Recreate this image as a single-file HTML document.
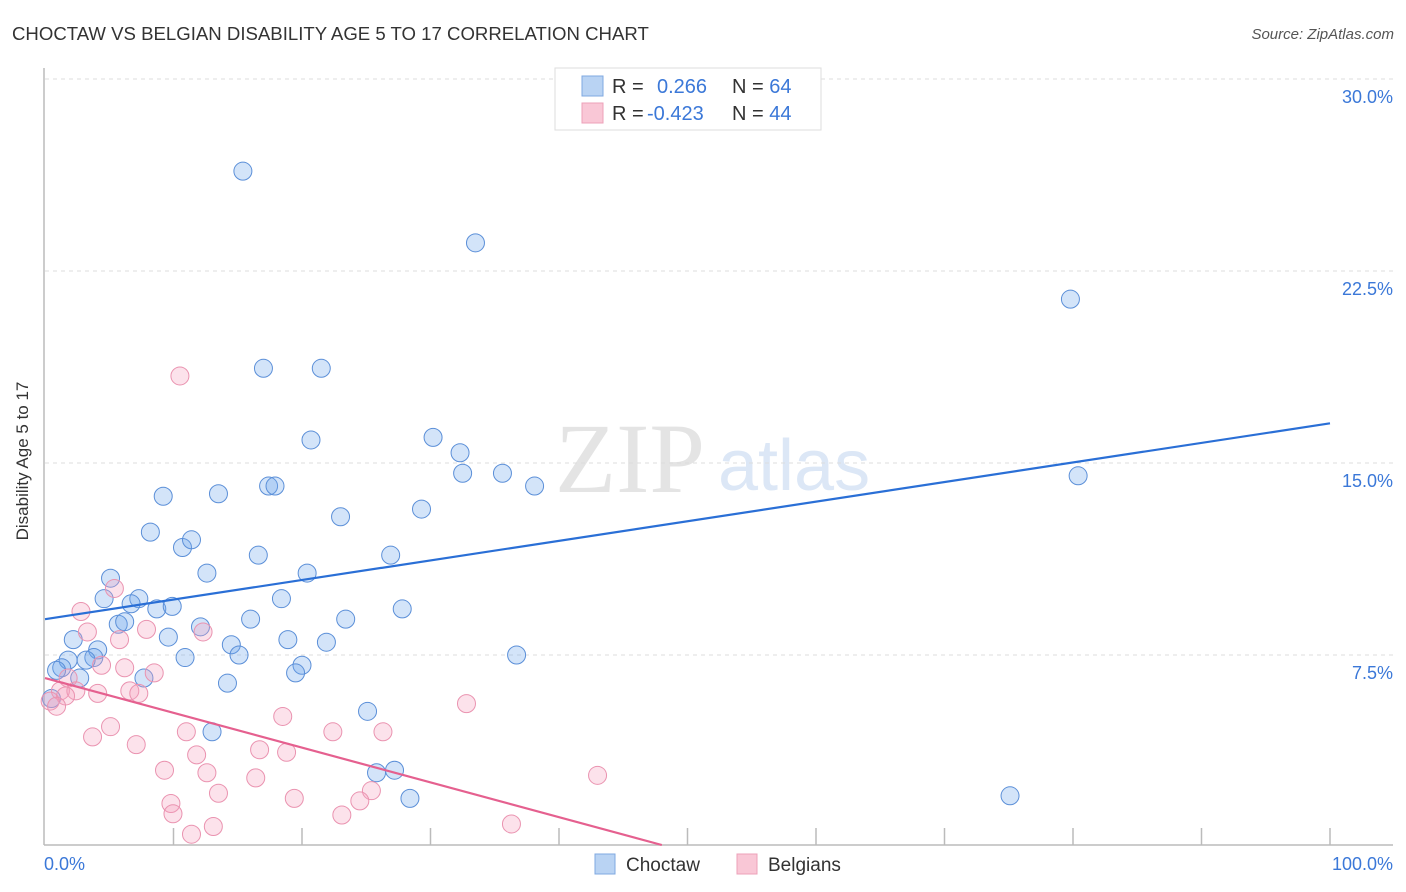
<!DOCTYPE html>
<html><head><meta charset="utf-8"><style>
body{margin:0;background:#fff;font-family:"Liberation Sans",sans-serif}
svg{display:block}
</style></head><body>
<svg width="1406" height="892" id="chart">
<text x="12" y="40" font-size="18.6" fill="#333">CHOCTAW VS BELGIAN DISABILITY AGE 5 TO 17 CORRELATION CHART</text>
<text x="1394" y="39" font-size="15" font-style="italic" fill="#555" text-anchor="end">Source: ZipAtlas.com</text>
<text x="555" y="492" font-size="100" font-family="Liberation Serif,serif" fill="#e4e4e4">ZIP</text>
<text x="718" y="490" font-size="72" fill="#dce7f6">atlas</text>
<g id="grid"></g>
<line x1="44" y1="68" x2="44" y2="845" stroke="#bbb" stroke-width="1.5"/>
<line x1="44" y1="845" x2="1393" y2="845" stroke="#bbb" stroke-width="1.5"/>
<g id="xticks"></g>
<text x="22" y="455" font-size="17" fill="#333" text-anchor="middle" transform="rotate(-90 28 455)">Disability Age 5 to 17</text>
<text x="44" y="870" font-size="18" fill="#3b78d8">0.0%</text>
<text x="1393" y="870" font-size="18" fill="#3b78d8" text-anchor="end">100.0%</text>
<g id="pts"></g>
<g id="lines"></g>
<g>
<rect x="555" y="68" width="266" height="62" fill="#fff" stroke="#ddd"/>
<rect x="582" y="76" width="21" height="20" fill="#b9d3f3" stroke="#7fa8e0"/>
<rect x="582" y="103" width="21" height="20" fill="#f9c7d6" stroke="#eda0b8"/>
<text x="612" y="93" font-size="20" fill="#333">R = <tspan x="657" fill="#3b78d8">0.266</tspan><tspan x="732" fill="#333">N = </tspan><tspan fill="#3b78d8">64</tspan></text>
<text x="612" y="120" font-size="20" fill="#333">R = <tspan x="647" fill="#3b78d8">-0.423</tspan><tspan x="732" fill="#333">N = </tspan><tspan fill="#3b78d8">44</tspan></text>
</g>
<g>
<rect x="595" y="854" width="20" height="20" fill="#b9d3f3" stroke="#7fa8e0"/>
<text x="626" y="871" font-size="19" fill="#333">Choctaw</text>
<rect x="737" y="854" width="20" height="20" fill="#f9c7d6" stroke="#eda0b8"/>
<text x="768" y="871" font-size="19" fill="#333">Belgians</text>
</g>
</svg>
<script>
const yTicks=[7.5,15,22.5,30];
const yTickLabels=["7.5%","15.0%","22.5%","30.0%"];
const xTicks=[10,20,30,40,50,60,70,80,90,100];
const choctawX=[15.4,33.5,79.8,17.0,21.5,20.7,30.2,32.3,32.5,35.6,38.1,80.4,9.2,13.5,17.4,17.9,29.3,23.0,8.2,10.7,11.4,16.6,26.9,12.6,20.4,5.1,4.6,7.3,6.7,8.7,9.9,18.4,27.8,16.0,23.4,5.7,6.2,12.1,9.6,2.2,14.5,18.9,21.9,4.1,3.8,10.9,15.1,36.7,1.8,3.2,1.3,20.0,19.5,0.9,2.7,7.7,14.2,0.5,25.1,13.0,25.8,27.2,28.4,75.1];
const choctawY=[26.4,23.6,21.4,18.7,18.7,15.9,16.0,15.4,14.6,14.6,14.1,14.5,13.7,13.8,14.1,14.1,13.2,12.9,12.3,11.7,12.0,11.4,11.4,10.7,10.7,10.5,9.7,9.7,9.5,9.3,9.4,9.7,9.3,8.9,8.9,8.7,8.8,8.6,8.2,8.1,7.9,8.1,8.0,7.7,7.4,7.4,7.5,7.5,7.3,7.3,7.0,7.1,6.8,6.9,6.6,6.6,6.4,5.8,5.3,4.5,2.9,3.0,1.9,2.0];
const belgX=[10.5,5.4,2.8,3.3,7.9,12.3,5.8,4.4,6.2,8.5,1.8,1.2,2.4,1.6,4.1,6.6,7.3,0.4,0.9,32.8,18.5,5.1,3.7,11.0,22.4,26.3,7.1,16.7,18.8,11.8,9.3,12.6,16.4,43.0,13.5,25.4,19.4,9.8,9.96,24.5,23.1,13.1,36.3,11.4];
const belgY=[18.4,10.1,9.2,8.4,8.5,8.4,8.1,7.1,7.0,6.8,6.6,6.1,6.1,5.9,6.0,6.1,6.0,5.7,5.5,5.6,5.1,4.7,4.3,4.5,4.5,4.5,4.0,3.8,3.7,3.6,3.0,2.9,2.7,2.8,2.1,2.2,1.9,1.7,1.3,1.8,1.25,0.8,0.9,0.5];
const choctawTrend=[8.9,16.55];
const belgTrend=[6.6,-0.1375];
const NS="http://www.w3.org/2000/svg";
const xs=v=>45+v*12.85, ys=v=>847-v*25.6;
function mk(t,a,p){const e=document.createElementNS(NS,t);for(const k in a)e.setAttribute(k,a[k]);p.appendChild(e);return e;}
const grid=document.getElementById('grid');
yTicks.forEach((t,i)=>{
 const l=mk('line',{x1:45,x2:1393,y1:ys(t),y2:ys(t),stroke:'#ddd','stroke-dasharray':'4,4'},grid);
 
 
 const tx=mk('text',{x:1393,y:ys(t)+24,'font-size':18,fill:'#3b78d8','text-anchor':'end'},grid);
 tx.textContent=yTickLabels[i];
 
 
});
const xt=document.getElementById('xticks');
xTicks.forEach(t=>{
 const l=mk('line',{x1:xs(t),x2:xs(t),y1:828,y2:845,stroke:'#bbb','stroke-width':1.5},xt);
 
 
});
const pts=document.getElementById('pts');
choctawX.forEach((x,i)=>{
 const c=mk('circle',{cx:xs(x),cy:ys(choctawY[i]),r:9,fill:'rgba(110,165,235,0.3)',stroke:'#5b8fd8','stroke-width':1},pts);
 
 
});
belgX.forEach((x,i)=>{
 const c=mk('circle',{cx:xs(x),cy:ys(belgY[i]),r:9,fill:'rgba(245,160,190,0.3)',stroke:'#ea93b0','stroke-width':1},pts);
 
 
});
const ln=document.getElementById('lines');
const l1=mk('line',{x1:xs(0),y1:ys(choctawTrend[0]),x2:xs(100),y2:ys(choctawTrend[1]),stroke:'#2a6fd6','stroke-width':2.2},ln);


const xEnd=Math.min(100,-belgTrend[0]/belgTrend[1]);
const l2=mk('line',{x1:xs(0),y1:ys(belgTrend[0]),x2:xs(xEnd),y2:Math.min(845,ys(belgTrend[0]+belgTrend[1]*xEnd)),stroke:'#e5608f','stroke-width':2.2},ln);


</script>
</body></html>
